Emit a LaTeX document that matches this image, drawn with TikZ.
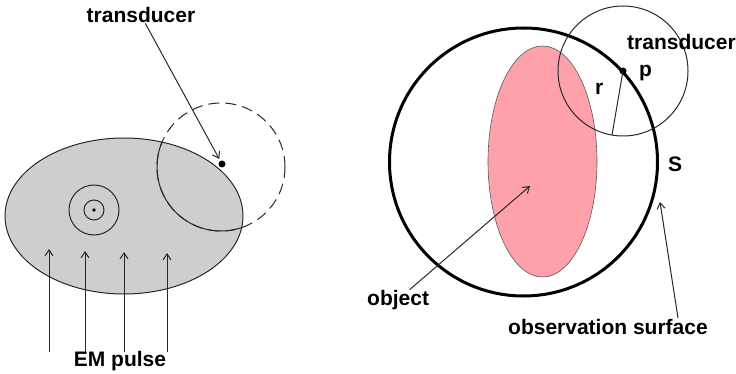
\documentclass[tikz,border=0pt]{standalone}
\usepackage{fontspec}
\setmainfont{Liberation Sans}
\usetikzlibrary{arrows.meta}
\definecolor{shadegray}{RGB}{206,206,206}
\definecolor{objpink}{RGB}{255,161,171}
\definecolor{inkgray}{RGB}{40,40,40}

\begin{document}
\begin{tikzpicture}[x=1pt,y=-1pt,
  lbl/.style={font=\bfseries\fontsize{21}{25}\selectfont,inner sep=0pt},
  ink/.style={draw=inkgray,line width=1pt},
  arr/.style={ink,-{Straight Barb[length=6pt,width=8pt]}},
  dot/.style={circle,fill=black,inner sep=0pt,minimum size=7pt}]
  \useasboundingbox (0,0) rectangle (736,374);

  % left: tissue with absorber, hit by the pulse
  \fill[shadegray] (124,216) ellipse [x radius=119, y radius=78];
  \draw[ink] (124,216) ellipse [x radius=119, y radius=78];
  \draw[ink] (94,210) circle [radius=25];
  \draw[ink] (94,210) circle [radius=10];
  \fill[black] (94,210) circle [radius=1.8];
  \draw[ink,dash pattern=on 11pt off 6pt] (221,167) circle [radius=64];
  \begin{scope}
    \clip (124,216) ellipse [x radius=119, y radius=78];
    \draw[ink] (221,167) circle [radius=64];
  \end{scope}
  \node[dot] (tdL) at (222,164) {};
  \node[lbl,anchor=base] (labL) at (141,23) {transducer};
  \draw[arr,shorten >=2pt] (labL) -- (tdL);
  \node[lbl,anchor=base] (pulse) at (120,366) {EM pulse};
  \foreach \x/\y [count=\i] in {49/249,85/251,124/252,167/253} {
    \coordinate (pb\i) at (\x,352);
    \coordinate (pt\i) at (\x,\y);
    \draw[arr] (pb\i) -- (pt\i);
  }

  % right: object inside the observation surface
  \fill[objpink] (542.5,161.5) ellipse [x radius=54.5, y radius=115.5];
  \draw[draw=gray!70!black,line width=0.6pt] (542.5,161.5) ellipse [x radius=54.5, y radius=115.5];
  \draw[line width=3pt] (523.5,162) circle [radius=134];
  \node[dot] (p) at (623,71) {};
  \draw[ink] (p) circle [radius=65];
  \coordinate (rend) at (612,135);
  \draw[ink] (p.center) -- (rend);
  \node[lbl,anchor=base west] (labR) at (627,50) {transducer};
  \node[lbl,anchor=base west] (plab) at (639,77) {p};
  \node[lbl,anchor=base west] (rlab) at (595,95) {r};
  \node[lbl,anchor=base west] (slab) at (668,172) {S};
  \node[lbl,anchor=base west] (objlab) at (367,305) {object};
  \coordinate (objtip) at (530,186);
  \draw[arr] (objlab) -- (objtip);
  \node[lbl,anchor=base west] (surf) at (508,334) {observation surface};
  \coordinate (surfbase) at (678,318);
  \coordinate (surftip) at (660,202);
  \draw[arr] (surfbase) -- (surftip);
\end{tikzpicture}
\end{document}
